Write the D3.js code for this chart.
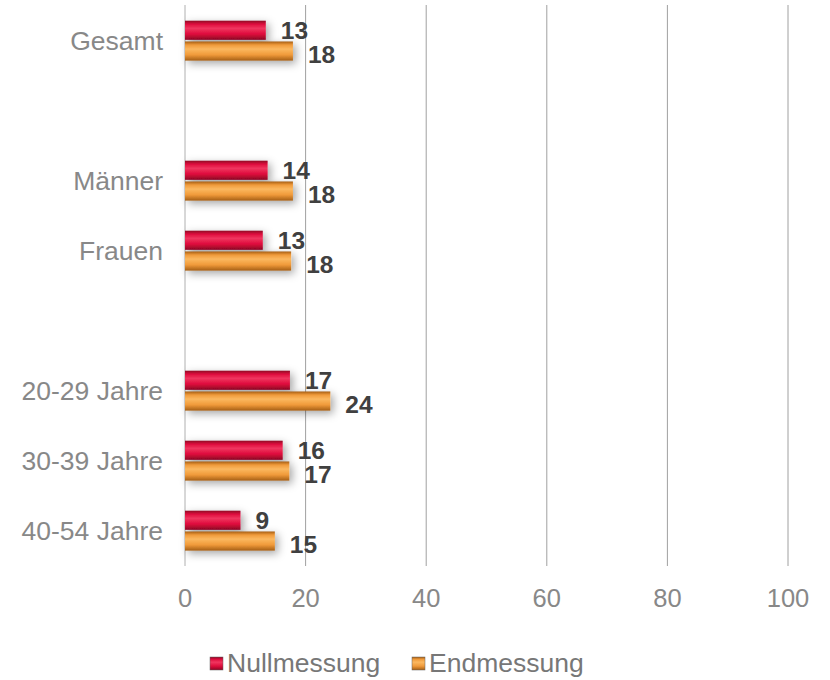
<!DOCTYPE html>
<html>
<head>
<meta charset="utf-8">
<script src="https://cdn.jsdelivr.net/npm/d3@7"></script>
<style>
  body { margin: 0; background: #fff; }
  svg { font-family: "Liberation Sans", Arial, sans-serif; }
</style>
</head>
<body>
<div id="chart"></div>
<script>
'use strict';

// data ("" = empty spacer row)
const categories = ["Gesamt", "", "Männer", "Frauen", "", "20-29 Jahre", "30-39 Jahre", "40-54 Jahre"];
const nullmessung = [13.4, null, 13.7, 12.9, null, 17.4, 16.2, 9.2];
const endmessung = [17.9, null, 17.9, 17.6, null, 24.1, 17.3, 14.9];
const seriesNames = ["Nullmessung", "Endmessung"];
const xTicks = [0, 20, 40, 60, 80, 100];

const width = 830, height = 680;
const margin = {top: 6, right: 42, bottom: 114, left: 185};

const svg = d3.select("#chart").append("svg")
    .attr("width", width)
    .attr("height", height);

const defs = svg.append("defs");

function bevel(id, light, mid, dark) {
    const g = defs.append("linearGradient").attr("id", id)
        .attr("x1", 0).attr("y1", 0).attr("x2", 0).attr("y2", 1);
    g.append("stop").attr("offset", "0%").attr("stop-color", dark);
    g.append("stop").attr("offset", "18%").attr("stop-color", mid);
    g.append("stop").attr("offset", "40%").attr("stop-color", light);
    g.append("stop").attr("offset", "70%").attr("stop-color", mid);
    g.append("stop").attr("offset", "100%").attr("stop-color", dark);
}
bevel("gradRed", "#f0365f", "#de0d3c", "#8e0524");
bevel("gradOrange", "#fbb860", "#f09a3a", "#a55e14");

const shadow = defs.append("filter").attr("id", "shadow")
    .attr("x", "-10%").attr("y", "-40%").attr("width", "130%").attr("height", "200%");
shadow.append("feDropShadow")
    .attr("dx", 3).attr("dy", 3).attr("stdDeviation", 4)
    .attr("flood-color", "#000").attr("flood-opacity", 0.35);

const x = d3.scaleLinear()
    .domain([0, 100])
    .range([margin.left, width - margin.right]);

const y = d3.scaleBand()
    .domain(d3.range(categories.length))
    .range([margin.top, height - margin.bottom]);

const inner = d3.scaleBand()
    .domain(seriesNames)
    .range([y.bandwidth() * 0.21, y.bandwidth() * 0.78])
    .paddingInner(0.08);

// gridlines
svg.append("g")
    .selectAll("line")
    .data(xTicks)
    .enter().append("line")
    .attr("x1", d => x(d)).attr("x2", d => x(d))
    .attr("y1", margin.top - 1).attr("y2", height - margin.bottom)
    .attr("stroke", d => d === 0 ? "#b0b0b0" : "#a0a0a0")
    .attr("stroke-width", 1);

// tick labels
svg.append("g")
    .selectAll("text")
    .data(xTicks)
    .enter().append("text")
    .attr("x", d => x(d))
    .attr("y", 607)
    .attr("text-anchor", "middle")
    .attr("font-size", 25.5)
    .attr("fill", "#888")
    .text(d => d);

// category labels
svg.append("g")
    .selectAll("text")
    .data(categories)
    .enter().append("text")
    .attr("x", margin.left - 22)
    .attr("y", (d, i) => y(i) + y.bandwidth() / 2)
    .attr("dy", "0.35em")
    .attr("text-anchor", "end")
    .attr("font-size", 26.5)
    .attr("fill", "#888")
    .text(d => d);

const rows = categories.map((c, i) => ({
    i: i,
    values: [
        {series: seriesNames[0], value: nullmessung[i], fill: "url(#gradRed)"},
        {series: seriesNames[1], value: endmessung[i], fill: "url(#gradOrange)"}
    ].filter(d => d.value != null)
}));

const group = svg.append("g").selectAll(".row")
    .data(rows)
    .enter().append("g")
    .attr("class", "row")
    .attr("transform", d => `translate(0,${y(d.i)})`);

group.selectAll(".bar")
    .data(d => d.values)
    .enter().append("rect")
    .attr("class", "bar")
    .attr("x", x(0))
    .attr("y", d => inner(d.series))
    .attr("width", d => x(d.value) - x(0))
    .attr("height", inner.bandwidth())
    .attr("fill", d => d.fill)
    .attr("filter", "url(#shadow)");

group.selectAll(".value")
    .data(d => d.values)
    .enter().append("text")
    .attr("class", "value")
    .attr("x", d => x(d.value) + 15)
    .attr("y", d => inner(d.series) + inner.bandwidth() / 2 + (d.series === seriesNames[0] ? 0 : 3))
    .attr("dy", "0.35em")
    .attr("font-size", 24.5)
    .attr("font-weight", "bold")
    .attr("fill", "#404040")
    .text(d => Math.round(d.value));

// legend
const legend = svg.append("g").attr("transform", "translate(210,663)");
const legendItems = [
    {name: seriesNames[0], fill: "url(#gradRed)", x: 0},
    {name: seriesNames[1], fill: "url(#gradOrange)", x: 202}
];
const li = legend.selectAll("g")
    .data(legendItems)
    .enter().append("g")
    .attr("transform", d => `translate(${d.x},0)`);
li.append("rect")
    .attr("x", 0).attr("y", -6)
    .attr("width", 13).attr("height", 13)
    .attr("fill", d => d.fill)
    .attr("stroke", "#666").attr("stroke-width", 0.5);
li.append("text")
    .attr("x", 17).attr("y", 0)
    .attr("dy", "0.35em")
    .attr("font-size", 26.5)
    .attr("fill", "#777")
    .text(d => d.name);
</script>
</body>
</html>
